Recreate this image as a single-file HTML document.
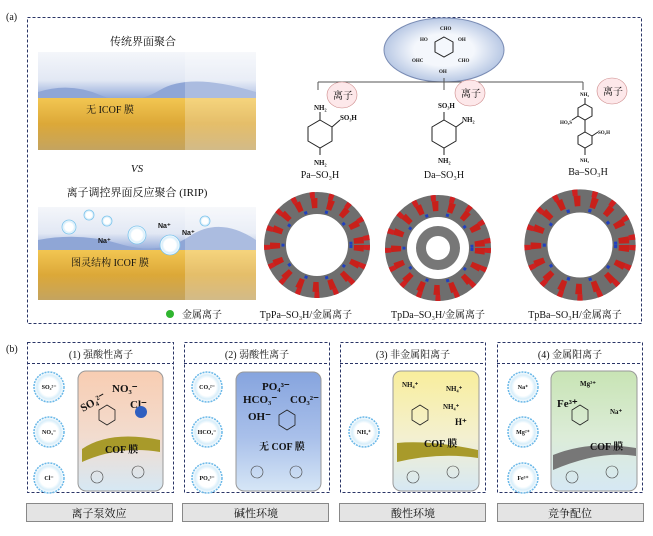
<!DOCTYPE html>
<html><head><meta charset="utf-8"><style>
body{margin:0;width:653px;height:531px;background:#fff;overflow:hidden}
svg text{font-family:"Liberation Serif","Noto Serif CJK SC",serif;fill:#111}
.s{font-family:"Liberation Sans",sans-serif !important;font-weight:bold}
</style></head><body>
<svg width="653" height="531" viewBox="0 0 653 531" xmlns="http://www.w3.org/2000/svg">
<defs>
<linearGradient id="water" x1="0" y1="0" x2="0" y2="1"><stop offset="0" stop-color="#f4f6fa"/><stop offset="0.6" stop-color="#e2e8f4"/><stop offset="1" stop-color="#8ea6d8"/></linearGradient>
<linearGradient id="gold" x1="0" y1="0" x2="0" y2="1"><stop offset="0" stop-color="#f2c652"/><stop offset="0.5" stop-color="#dca838"/><stop offset="1" stop-color="#c4a460"/></linearGradient>
<linearGradient id="p1" x1="0" y1="0" x2="0" y2="1"><stop offset="0" stop-color="#f8cdb2"/><stop offset="0.55" stop-color="#f2dccf"/><stop offset="1" stop-color="#d6e8f4"/></linearGradient>
<linearGradient id="p2" x1="0" y1="0" x2="0" y2="1"><stop offset="0" stop-color="#86a4de"/><stop offset="0.55" stop-color="#a9c0ea"/><stop offset="1" stop-color="#d6e6f6"/></linearGradient>
<linearGradient id="p3" x1="0" y1="0" x2="0" y2="1"><stop offset="0" stop-color="#f8ee9c"/><stop offset="0.55" stop-color="#f4f0d0"/><stop offset="1" stop-color="#d6e8f4"/></linearGradient>
<linearGradient id="p4" x1="0" y1="0" x2="0" y2="1"><stop offset="0" stop-color="#c8e4b4"/><stop offset="0.55" stop-color="#dcecd8"/><stop offset="1" stop-color="#d6e8f4"/></linearGradient>
<radialGradient id="ion"><stop offset="0.6" stop-color="#fff"/><stop offset="0.8" stop-color="#d8eefa"/><stop offset="1" stop-color="#fff"/></radialGradient>
<radialGradient id="ell"><stop offset="0.5" stop-color="#f4f7fc"/><stop offset="1" stop-color="#b8c8e4"/></radialGradient>
<g id="ring">
<circle r="42" fill="none" stroke="#6e6e6e" stroke-width="22"/>
<circle r="42" fill="none" stroke="#c8201a" stroke-width="10" stroke-dasharray="6 10"/>
<circle r="34" fill="none" stroke="#2040c0" stroke-width="3" stroke-dasharray="3 18"/>
<circle r="50" fill="none" stroke="#d02020" stroke-width="6" stroke-dasharray="5 14"/>
</g>
</defs>

<text x="6" y="20" font-size="10">(a)</text>
<rect x="27.5" y="17.5" width="614" height="306" fill="none" stroke="#2a3466" stroke-dasharray="3 2"/>

<text x="143" y="45" font-size="11" text-anchor="middle">传统界面聚合</text>
<rect x="38" y="52" width="218" height="47" fill="url(#water)"/>
<path d="M38 92 Q70 82 100 95 T160 90 T256 92 L256 100 L38 100Z" fill="#8fa6d6"/>
<rect x="38" y="98" width="218" height="52" fill="url(#gold)"/>
<rect x="185" y="52" width="71" height="98" fill="#fff" opacity="0.25"/>
<text x="110" y="113" font-size="10" text-anchor="middle">无 ICOF 膜</text>

<text x="137" y="172" font-size="11" font-style="italic" text-anchor="middle">VS</text>
<text x="137" y="196" font-size="11" text-anchor="middle">离子调控界面反应聚合 (IRIP)</text>
<rect x="38" y="207" width="218" height="44" fill="url(#water)"/>
<path d="M38 240 Q80 232 120 244 T190 236 T256 240 L256 252 L38 252Z" fill="#8fa6d6"/>
<rect x="38" y="250" width="218" height="50" fill="url(#gold)"/>
<rect x="185" y="207" width="71" height="93" fill="#fff" opacity="0.25"/>
<text x="110" y="266" font-size="10" text-anchor="middle">图灵结构 ICOF 膜</text>
<g>
<circle cx="69" cy="227" r="7" fill="url(#ion)" stroke="#7cc4ec" stroke-width="0.8"/>
<circle cx="137" cy="235" r="9" fill="url(#ion)" stroke="#7cc4ec" stroke-width="0.8"/>
<circle cx="170" cy="245" r="10" fill="url(#ion)" stroke="#7cc4ec" stroke-width="0.8"/>
<circle cx="89" cy="215" r="5" fill="url(#ion)" stroke="#7cc4ec" stroke-width="0.8"/>
<circle cx="107" cy="221" r="5" fill="url(#ion)" stroke="#7cc4ec" stroke-width="0.8"/>
<circle cx="205" cy="221" r="5" fill="url(#ion)" stroke="#7cc4ec" stroke-width="0.8"/>
</g>
<text x="158" y="228" font-size="7" class="s">Na⁺</text>
<text x="182" y="235" font-size="7" class="s">Na⁺</text>
<text x="98" y="243" font-size="7" class="s">Na⁺</text>

<circle cx="170" cy="314" r="4" fill="#2fb52f"/>
<text x="182" y="318" font-size="10">金属离子</text>

<ellipse cx="444" cy="50" rx="60" ry="32" fill="url(#ell)" stroke="#7a8cb4"/>
<polygon points="444,37 453,42 453,52 444,57 435,52 435,42" fill="none" stroke="#222"/>
<g font-size="5" class="s" font-weight="normal"><text x="440" y="30">CHO</text><text x="420" y="41">HO</text><text x="458" y="41">OH</text><text x="412" y="62">OHC</text><text x="458" y="62">CHO</text><text x="439" y="73">OH</text></g>
<path d="M318 82 H583 M318 82 V90 M444 82 V90 M583 82 V90 M444 78 V82" stroke="#555" fill="none"/>
<g fill="#fde8ea" stroke="#c88" stroke-width="0.6">
<ellipse cx="342" cy="95" rx="15" ry="13"/><ellipse cx="470" cy="93" rx="15" ry="13"/><ellipse cx="612" cy="91" rx="15" ry="13"/></g>
<text x="333" y="99" font-size="10">离子</text><text x="461" y="97" font-size="10">离子</text><text x="603" y="95" font-size="10">离子</text>

<g fill="none" stroke="#222">
<polygon points="320,120 332,127 332,141 320,148 308,141 308,127"/>
<polygon points="444,120 456,127 456,141 444,148 432,141 432,127"/>
<polygon points="585,104 592,108 592,116 585,120 578,116 578,108"/>
<polygon points="585,132 592,136 592,144 585,148 578,144 578,136"/>
<path d="M320 120 V112 M320 148 V155 M332 127 L340 120 M444 120 V112 M456 127 L463 122 M444 148 V155 M585 104 V98 M585 120 V132 M585 148 V155 M578 116 L572 120 M592 136 L598 132"/>
</g>
<g font-size="7" class="s" font-weight="normal">
<text x="314" y="110" fill="#2030d0">NH₂</text><text x="340" y="120" fill="#e02020">SO₃H</text><text x="314" y="165" fill="#2030d0">NH₂</text>
<text x="438" y="108" fill="#e02020">SO₃H</text><text x="462" y="122" fill="#2030d0">NH₂</text><text x="438" y="163" fill="#2030d0">NH₂</text>
<text x="580" y="96" fill="#2030d0" font-size="5">NH₂</text><text x="560" y="124" fill="#e02020" font-size="5">HO₃S</text><text x="598" y="134" fill="#e02020" font-size="5">SO₃H</text><text x="580" y="162" fill="#2030d0" font-size="5">NH₂</text>
</g>
<text x="320" y="178" font-size="10" text-anchor="middle">Pa–SO₃H</text>
<text x="444" y="178" font-size="10" text-anchor="middle">Da–SO₃H</text>
<text x="588" y="175" font-size="10" text-anchor="middle">Ba–SO₃H</text>

<use href="#ring" transform="translate(317,245)"/>
<use href="#ring" transform="translate(438,248)"/>
<circle cx="438" cy="248" r="22" fill="#777"/>
<circle cx="438" cy="248" r="12" fill="#fff"/>
<use href="#ring" transform="translate(580,245) scale(1.05)"/>
<text x="306" y="318" font-size="10" text-anchor="middle">TpPa–SO₃H/金属离子</text>
<text x="438" y="318" font-size="10" text-anchor="middle">TpDa–SO₃H/金属离子</text>
<text x="575" y="318" font-size="10" text-anchor="middle">TpBa–SO₃H/金属离子</text>

<text x="6" y="352" font-size="10">(b)</text>
<g fill="none" stroke="#2a3466" stroke-dasharray="3 2">
<rect x="27.5" y="342.5" width="146" height="150"/><line x1="27" y1="363.5" x2="174" y2="363.5"/>
<rect x="184.5" y="342.5" width="145" height="150"/><line x1="184" y1="363.5" x2="330" y2="363.5"/>
<rect x="340.5" y="342.5" width="145" height="150"/><line x1="340" y1="363.5" x2="486" y2="363.5"/>
<rect x="497.5" y="342.5" width="145" height="150"/><line x1="497" y1="363.5" x2="643" y2="363.5"/>
</g>
<g font-size="10" text-anchor="middle">
<text x="101" y="358">(1) 强酸性离子</text><text x="257" y="358">(2) 弱酸性离子</text>
<text x="413" y="358">(3) 非金属阳离子</text><text x="570" y="358">(4) 金属阳离子</text>
</g>
<rect x="78" y="371" width="85" height="120" rx="8" fill="url(#p1)" stroke="#999"/>
<rect x="236" y="372" width="85" height="119" rx="8" fill="url(#p2)" stroke="#999"/>
<rect x="393" y="371" width="86" height="120" rx="8" fill="url(#p3)" stroke="#999"/>
<rect x="551" y="371" width="86" height="120" rx="8" fill="url(#p4)" stroke="#999"/>
<g fill="url(#ion)" stroke="#6ab8e8" stroke-width="1.5" stroke-dasharray="2 1">
<circle cx="49" cy="387" r="15"/><circle cx="49" cy="432" r="15"/><circle cx="49" cy="478" r="15"/>
<circle cx="207" cy="387" r="15"/><circle cx="207" cy="432" r="15"/><circle cx="207" cy="478" r="15"/>
<circle cx="364" cy="432" r="15"/>
<circle cx="523" cy="387" r="15"/><circle cx="523" cy="432" r="15"/><circle cx="523" cy="478" r="15"/>
</g>
<g font-size="6" class="s" font-weight="normal" text-anchor="middle">
<text x="49" y="389">SO₄²⁻</text><text x="49" y="434">NO₃⁻</text><text x="49" y="480">Cl⁻</text>
<text x="207" y="389">CO₃²⁻</text><text x="207" y="434">HCO₃⁻</text><text x="207" y="480">PO₄³⁻</text>
<text x="364" y="434">NH₄⁺</text>
<text x="523" y="389">Na⁺</text><text x="523" y="434">Mg²⁺</text><text x="523" y="480">Fe³⁺</text>
</g>
<g fill="none" stroke="#222" stroke-width="0.8">
<polygon points="107,405 115,410 115,420 107,425 99,420 99,410"/>
<polygon points="287,410 295,415 295,425 287,430 279,425 279,415"/>
<polygon points="420,405 428,410 428,420 420,425 412,420 412,410"/>
<polygon points="580,405 588,410 588,420 580,425 572,420 572,410"/>
</g>
<g font-size="11" class="s">
<text x="83" y="412" transform="rotate(-30 83 412)">SO₄²⁻</text><text x="112" y="392">NO₃⁻</text><text x="130" y="408">Cl⁻</text>
<text x="262" y="390">PO₄³⁻</text><text x="243" y="403">HCO₃⁻</text><text x="290" y="403">CO₃²⁻</text><text x="248" y="420">OH⁻</text>
<text x="455" y="425" font-size="9">H⁺</text>
<text x="557" y="407">Fe³⁺</text>
</g>
<g font-size="7" class="s" font-weight="normal">
<text x="402" y="387">NH₄⁺</text><text x="446" y="391">NH₄⁺</text><text x="443" y="409">NH₄⁺</text>
<text x="580" y="386">Mg²⁺</text><text x="610" y="414">Na⁺</text>
</g>
<circle cx="141" cy="412" r="6" fill="#2f5fc0"/>
<path d="M82 449 Q110 430 160 440 L160 452 Q120 445 82 462Z" fill="#a89a2a"/>
<path d="M397 443 Q430 440 478 450 L478 458 Q440 452 397 462Z" fill="#a89a2a"/>
<path d="M553 455 Q590 440 636 448 L636 456 Q600 450 553 470Z" fill="#777"/>
<g font-size="10" class="s" font-weight="normal">
<text x="105" y="453" fill="#1a2ad8">COF 膜</text><text x="259" y="450" fill="#1a2ad8">无 COF 膜</text>
<text x="424" y="447" fill="#1a2ad8">COF 膜</text><text x="590" y="450" fill="#1a2ad8">COF 膜</text>
</g>
<g fill="none" stroke="#444" stroke-width="0.6">
<circle cx="97" cy="477" r="6"/><circle cx="138" cy="472" r="6"/>
<circle cx="257" cy="472" r="6"/><circle cx="296" cy="472" r="6"/>
<circle cx="413" cy="477" r="6"/><circle cx="453" cy="472" r="6"/>
<circle cx="572" cy="477" r="6"/><circle cx="612" cy="472" r="6"/>
</g>
<g fill="#e4e4e4" stroke="#888">
<rect x="26.5" y="503.5" width="146" height="18"/><rect x="182.5" y="503.5" width="146" height="18"/>
<rect x="339.5" y="503.5" width="146" height="18"/><rect x="497.5" y="503.5" width="146" height="18"/>
</g>
<g font-size="11" text-anchor="middle">
<text x="99" y="517">离子泵效应</text><text x="256" y="517">碱性环境</text>
<text x="413" y="517">酸性环境</text><text x="570" y="517">竞争配位</text>
</g>
</svg>
</body></html>
